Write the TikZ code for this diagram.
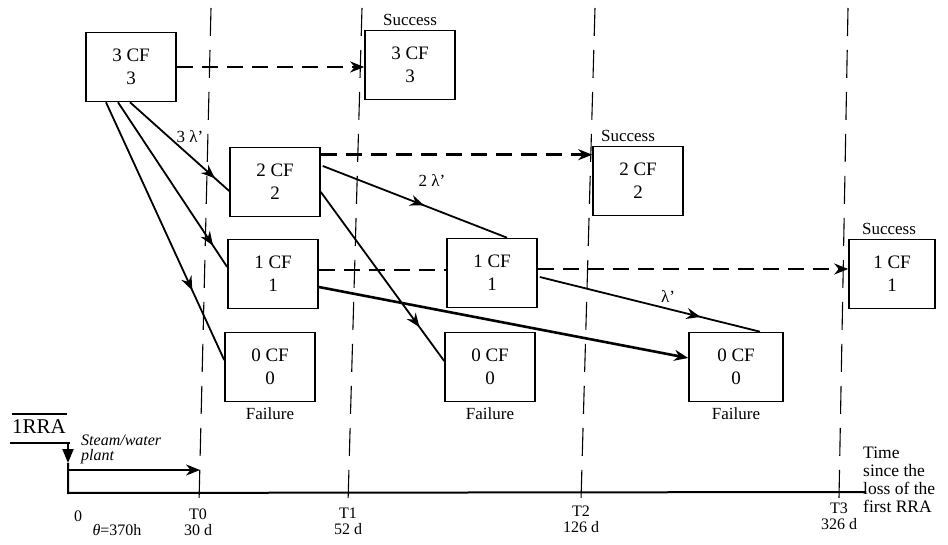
\documentclass[tikz,border=0pt]{standalone}
\usepackage{fontspec}
\setmainfont{Liberation Serif}
\usetikzlibrary{arrows.meta,calc,decorations.markings}
\tikzset{
  box/.style={draw, line width=1.6pt, fill=white, minimum width=90pt, minimum height=69pt,
    inner sep=0pt, align=center, font=\fontsize{19}{23}\selectfont},
  lbl/.style={font=\fontsize{17}{18}\selectfont, inner sep=0pt},
  axlbl/.style={font=\fontsize{16}{16}\selectfont, inner sep=0pt},
  tline/.style={line width=1.1pt, dash pattern=on 28pt off 14pt},
  dasharrow/.style={line width=2.5pt, dash pattern=on 16pt off 9pt},
  tip/.style={-{Stealth[length=14pt,width=11pt]}},
  trans/.style={line width=1.8pt},
  midarrow/.style={postaction={decorate}, decoration={markings,
      mark=at position #1 with {\arrow{Stealth[length=14pt,width=11pt]}}}}
}
\begin{document}
\begin{tikzpicture}[x=1pt,y=-1pt]
\useasboundingbox (0,0) rectangle (948,545);
% time lines
\coordinate (t0a) at (211,8);  \coordinate (t0b) at (199,503);
\coordinate (t1a) at (362,8);  \coordinate (t1b) at (348,503);
\coordinate (t2a) at (595,8);  \coordinate (t2b) at (581,500);
\coordinate (t3a) at (848,8);  \coordinate (t3b) at (839,498);
\draw[tline] (t0a) -- (t0b);
\draw[tline] (t1a) -- (t1b);
\draw[tline] (t2a) -- (t2b);
\draw[tline] (t3a) -- (t3b);

% boxes
\node[box] (A3) at (131,67) {3 CF\\3};
\node[box] (S3) at (410,65) {3 CF\\3};
\node[box] (B2) at (275,182) {2 CF\\2};
\node[box] (S2) at (638,181) {2 CF\\2};
\node[box] (C1) at (273,274) {1 CF\\1};
\node[box] (C1b) at (492,273) {1 CF\\1};
\node[box, minimum width=86pt] (S1) at (892,274) {1 CF\\1};
\node[box] (D0) at (270,367) {0 CF\\0};
\node[box] (D0b) at (490,367) {0 CF\\0};
\node[box, minimum width=94pt] (D0c) at (736,367) {0 CF\\0};

% success / failure
\node[lbl, anchor=south] (s3l) at ($(S3.north)+(0,-4)$) {Success};
\node[lbl, anchor=south] (s2l) at ($(S2.north)+(-10,-4)$) {Success};
\node[lbl, anchor=south] (s1l) at ($(S1.north)+(-3,-4)$) {Success};
\node[lbl, anchor=north] (f0) at ($(D0.south)+(0,5)$) {Failure};
\node[lbl, anchor=north] (f0b) at ($(D0b.south)+(0,5)$) {Failure};
\node[lbl, anchor=north] (f0c) at ($(D0c.south)+(0,5)$) {Failure};

% dashed (no failure) transitions
\draw[dasharrow, tip] (A3.east) -- (A3.east -| S3.west);
\coordinate (b2d) at ($(B2.north east)+(0,8)$);
\draw[dasharrow, tip] (b2d) -- (b2d -| S2.west);
\coordinate (c1d) at ($(C1.east)+(0,-4)$);
\draw[dasharrow] (c1d) -- (c1d -| C1b.west);
\coordinate (c1bd) at ($(C1b.east)+(0,-4)$);
\draw[dasharrow, tip] (c1bd) -- (c1bd -| S1.west);

% failure transitions
\draw[trans, midarrow=0.86] ($(A3.south)+(-1,0)$) -- ($(B2.west)+(0,9)$);
\draw[trans, midarrow=0.87] ($(A3.south)+(-13,0)$) -- ($(C1.west)+(0,-7)$);
\draw[trans, midarrow=0.73] ($(A3.south)+(-25,0)$) -- ($(D0.west)+(0,-7)$);
\draw[trans, midarrow=0.55] ($(B2.east)+(2,-16)$) -- ($(C1b.north)+(15,0)$);
\draw[trans, midarrow=0.8] ($(B2.east)+(0,10)$) -- ($(D0b.west)+(0,-6)$);
\draw[trans, midarrow=0.73] ($(C1b.east)+(2,4)$) -- ($(D0c.north)+(24,0)$);
\draw[line width=2.6pt, tip] ($(C1.east)+(0,13)$) -- ($(D0c.west)+(0,-9)$);

\node[lbl] (l3) at (190,137) {3 λ'};
\node[lbl] (l2) at (432,181) {2 λ'};
\node[lbl] (l1) at (668,297) {λ'};

% 1RRA and time axis
\node[inner sep=0pt, font=\fontsize{21}{21}\selectfont] (rra) at (39,427) {1RRA};
\draw[line width=1.4pt] (12,414) -- (67,414);
\draw[line width=1.4pt] (10,443) -- (70,443);
\coordinate (o) at (68,443);
\coordinate (ax0) at (68,493);
\coordinate (axend) at (866,492);
\draw[line width=2pt, -{Triangle[length=14pt,width=11pt]}] (o) -- ++(0,20) coordinate (tri);
\draw[line width=2pt] (tri) -- (ax0) -- (axend);
\coordinate (sw0) at (68,470);
\coordinate (sw1) at (200,470);
\draw[line width=2pt, tip] (sw0) -- (sw1);
\node[anchor=north west, inner sep=0pt, align=left, font=\itshape\fontsize{16}{15}\selectfont] (steam) at (81,435) {Steam/water\\plant};

\node[inner sep=0pt, anchor=west, align=left, font=\fontsize{17.5}{18}\selectfont] (tlab) at (863,480) {Time\\since the\\loss of the\\first RRA};

\node[axlbl] (x0) at (78,516) {0};
\node[axlbl] (xth) at (117,530) {\textit{θ}=370h};
\node[axlbl] (xT0) at (198,514) {T0};
\node[axlbl] (xd0) at (198,530) {30 d};
\node[axlbl] (xT1) at (348,513) {T1};
\node[axlbl] (xd1) at (348,529) {52 d};
\node[axlbl] (xT2) at (581,511) {T2};
\node[axlbl] (xd2) at (581,527) {126 d};
\node[axlbl] (xT3) at (839,508) {T3};
\node[axlbl] (xd3) at (839,524) {326 d};
\end{tikzpicture}
\end{document}
